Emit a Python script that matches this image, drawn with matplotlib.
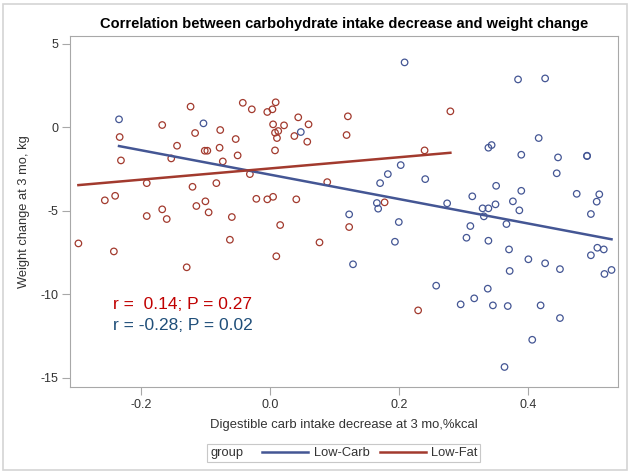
import numpy as np
import matplotlib
matplotlib.use('Agg')
import matplotlib.pyplot as plt
from matplotlib.lines import Line2D
from matplotlib.patches import Rectangle

# Low-Fat group (red)
lf_x = [-0.123, -0.042, -0.028, 0.009, -0.004, 0.004, 0.044, -0.167, 0.005, 0.022,
        -0.233, -0.116, -0.077, 0.008, 0.013, 0.011, -0.053, 0.038, -0.144, -0.101,
        -0.097, -0.078, 0.008, -0.231, -0.153, -0.073, -0.050, -0.031, -0.191, -0.120,
        -0.083, -0.256, -0.240, -0.021, -0.004, 0.005, 0.041, -0.114, -0.100, -0.191,
        -0.167, -0.160, -0.095, -0.059, 0.016, -0.297, -0.242, -0.062, 0.010, -0.129,
        0.280, 0.060, 0.121, 0.058, 0.119, 0.240, 0.089, 0.178, 0.123, 0.077, 0.230]
lf_y = [1.24, 1.47, 1.08, 1.50, 0.92, 1.08, 0.60, 0.14, 0.18, 0.12,
        -0.58, -0.34, -0.16, -0.32, -0.22, -0.64, -0.70, -0.52, -1.10, -1.40,
        -1.40, -1.22, -1.38, -1.98, -1.86, -2.04, -1.68, -2.80, -3.34, -3.56,
        -3.34, -4.37, -4.10, -4.28, -4.31, -4.16, -4.31, -4.71, -4.43, -5.31,
        -4.91, -5.49, -5.09, -5.37, -5.85, -6.95, -7.43, -6.73, -7.72, -8.38,
        0.96, 0.18, 0.66, -0.86, -0.46, -1.38, -3.28, -4.49, -5.97, -6.89, -10.96]

# Low-Carb group (blue)
lc_x = [-0.234, -0.103, 0.048, 0.209, 0.385, 0.417, 0.339, 0.344, 0.390, 0.203,
        0.183, 0.241, 0.171, 0.351, 0.390, 0.314, 0.377, 0.166, 0.275, 0.168,
        0.330, 0.339, 0.350, 0.387, 0.332, 0.367, 0.311, 0.123, 0.200, 0.305,
        0.339, 0.194, 0.371, 0.401, 0.129, 0.372, 0.258, 0.338, 0.317, 0.296,
        0.346, 0.369, 0.420, 0.407, 0.364, 0.427, 0.447, 0.492, 0.492, 0.445,
        0.476, 0.511, 0.507, 0.498, 0.508, 0.518, 0.498, 0.427, 0.450, 0.519,
        0.530, 0.450]
lc_y = [0.48, 0.24, -0.28, 3.89, 2.87, -0.64, -1.22, -1.06, -1.64, -2.26,
        -2.80, -3.10, -3.34, -3.50, -3.80, -4.13, -4.43, -4.53, -4.55, -4.87,
        -4.85, -4.85, -4.61, -4.97, -5.33, -5.79, -5.91, -5.21, -5.67, -6.61,
        -6.79, -6.85, -7.31, -7.90, -8.20, -8.60, -9.48, -9.66, -10.24, -10.60,
        -10.66, -10.70, -10.66, -12.72, -14.35, 2.93, -1.80, -1.70, -1.72, -2.75,
        -3.98, -4.01, -4.45, -5.19, -7.21, -7.31, -7.66, -8.14, -8.49, -8.78,
        -8.54, -11.42]

x_ticks = [-0.2, 0.0, 0.2, 0.4]
x_ticklabels = ['-0.2', '0.0', '0.2', '0.4']
y_ticks = [-15, -10, -5, 0, 5]

lc_color = '#445694'
lf_color = '#A23A2E'

plt.rcParams['font.family'] = ['Liberation Sans', 'DejaVu Sans']
plt.rcParams['axes.unicode_minus'] = False
lab = {'family': 'Liberation Sans', 'color': '#333333'}

fig = plt.figure(figsize=(6.32, 4.75), dpi=100)
ax = fig.add_axes([0.1108, 0.1859, 0.867, 0.7383])

# outer light border
fig.patches.append(Rectangle((0.005, 0.01), 0.987, 0.982, transform=fig.transFigure,
                             fill=False, edgecolor='#d4d4d4', linewidth=1.2))

ax.scatter(lf_x, lf_y, s=22, facecolors='none', edgecolors=lf_color, linewidths=0.9, zorder=3)
ax.scatter(lc_x, lc_y, s=22, facecolors='none', edgecolors=lc_color, linewidths=0.9, zorder=3)

# regression lines per group
for xs, ys, c in [(lc_x, lc_y, lc_color), (lf_x, lf_y, lf_color)]:
    xs = np.array(xs)
    b, a = np.polyfit(xs, ys, 1)
    xx = np.array([xs.min(), xs.max()])
    ax.plot(xx, a + b * xx, color=c, lw=1.8, zorder=4)

ax.text(-0.244, -10.58, 'r =  0.14; P = 0.27', color='#c00000', fontsize=12.5, va='center')
ax.text(-0.244, -11.88, 'r = -0.28; P = 0.02', color='#1f4e79', fontsize=12.5, va='center')

ax.set_xlim(-0.31, 0.54)
ax.set_ylim(-15.53, 5.47)
ax.set_xticks(x_ticks)
ax.set_xticklabels(x_ticklabels)
ax.set_yticks(y_ticks)

for sp in ax.spines.values():
    sp.set_color('#a8a8a8')
ax.tick_params(colors='#a8a8a8', labelcolor='#333333', labelsize=9, length=6, width=0.8, pad=2.5)

ax.set_xlabel('Digestible carb intake decrease at 3 mo,%kcal', fontsize=9.4, labelpad=6, **lab)
ax.set_ylabel('Weight change at 3 mo, kg', fontsize=9.3, labelpad=7, **lab)
ax.set_title('Correlation between carbohydrate intake decrease and weight change',
             fontsize=10.5, fontweight='bold', pad=5.5)

# legend: box + "group" label + two line entries
fig.patches.append(Rectangle((0.3275, 0.0274), 0.432, 0.0379, transform=fig.transFigure,
                             fill=False, edgecolor='#c8c8c8', linewidth=0.8))
fig.text(0.3323, 0.0463, 'group', fontsize=9.3, va='center', ha='left', **lab)
legend_elements = [Line2D([0], [0], color=lc_color, lw=1.8, label='Low-Carb'),
                   Line2D([0], [0], color=lf_color, lw=1.8, label='Low-Fat')]
fig.legend(handles=legend_elements, loc='center', bbox_to_anchor=(0.5854, 0.0463),
           ncol=2, frameon=False, fontsize=9.3, handlelength=3.55, handletextpad=0.45,
           columnspacing=0.8, borderpad=0, labelcolor='#333333')

fig.savefig('out.png', dpi=100)
